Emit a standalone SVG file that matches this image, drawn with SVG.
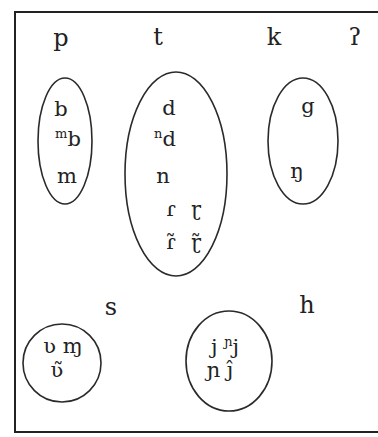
<svg xmlns="http://www.w3.org/2000/svg" width="378" height="437" viewBox="0 0 378 437">
<style>
.bg{fill:#ffffff}
.frame{fill:none;stroke:#222;stroke-width:2}
.ell{fill:none;stroke:#2a2a2a;stroke-width:1.6}
.lab{font-family:"DejaVu Serif","Liberation Serif",serif;font-size:24px;fill:#222;text-anchor:middle}
.ph{font-family:"DejaVu Serif","Liberation Serif",serif;font-size:21px;fill:#222;text-anchor:middle}
.sup{font-size:13px}
</style>
<rect class="bg" x="0" y="0" width="378" height="437"/>
<rect class="frame" x="15" y="12" width="370" height="420"/>
<g id="labels">
<text class="lab" x="61" y="46">p</text>
<text class="lab" x="158" y="45">t</text>
<text class="lab" x="274" y="45">k</text>
<text class="lab" x="355" y="45">ʔ</text>
<text class="lab" x="111" y="315">s</text>
<text class="lab" x="307" y="313">h</text>
</g>
<g id="connectors"></g>
<g id="node-labial">
<ellipse class="ell" cx="65" cy="141" rx="27" ry="63"/>
<text class="ph" x="61" y="116">b</text>
<text class="ph" x="68" y="146"><tspan class="sup" dy="-8">m</tspan><tspan dy="8">b</tspan></text>
<text class="ph" x="67" y="183">m</text>
</g>
<g id="node-coronal">
<ellipse class="ell" cx="176" cy="174" rx="51" ry="102"/>
<text class="ph" x="169" y="115">d</text>
<text class="ph" x="165" y="146"><tspan class="sup" dy="-8">n</tspan><tspan dy="8">d</tspan></text>
<text class="ph" x="163" y="183">n</text>
<text class="ph" x="171" y="216">ɾ</text>
<text class="ph" x="196" y="216">ɽ</text>
<text class="ph" x="171" y="249">ɾ̃</text>
<text class="ph" x="196" y="249">ɽ̃</text>
</g>
<g id="node-velar">
<ellipse class="ell" cx="303" cy="141" rx="35" ry="63"/>
<text class="ph" x="308" y="113">g</text>
<text class="ph" x="297" y="178">ŋ</text>
</g>
<g id="node-labiodental">
<ellipse class="ell" cx="62" cy="363" rx="39" ry="39"/>
<text class="ph" x="63" y="353">ʋ ɱ</text>
<text class="ph" x="57" y="377">ʋ̃</text>
</g>
<g id="node-palatal">
<ellipse class="ell" cx="229" cy="361" rx="43" ry="50"/>
<text class="ph" x="225" y="354">j <tspan class="sup" dy="-8">ɲ</tspan><tspan dy="8">j</tspan></text>
<text class="ph" x="220" y="377">ɲ ĵ</text>
</g>
</svg>
